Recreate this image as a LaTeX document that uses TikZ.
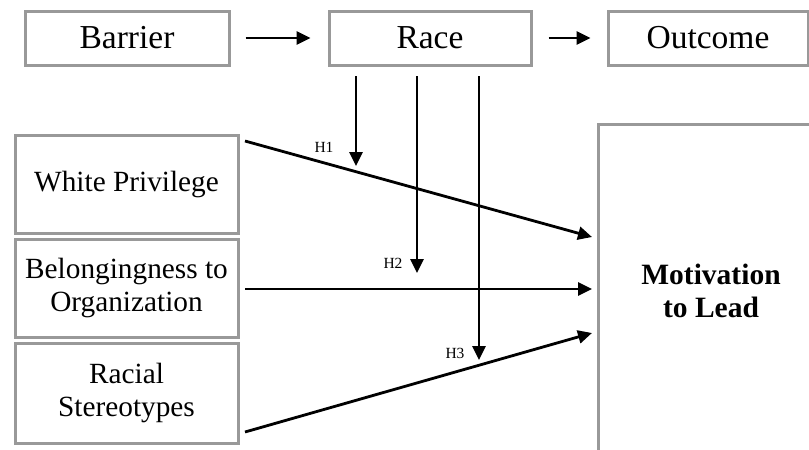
\documentclass[tikz,border=0pt]{standalone}
\usepackage{fontspec}
\setmainfont{Liberation Serif}
\usetikzlibrary{arrows.meta}
\definecolor{boxgray}{gray}{0.6}
\tikzset{
  topbox/.style={draw=boxgray, line width=3pt, minimum height=54pt, inner sep=0pt,
    font=\fontsize{33.5}{36}\selectfont},
  sidebox/.style={draw=boxgray, line width=3pt, minimum width=223pt, inner sep=0pt,
    align=center, font=\fontsize{29.3}{33}\selectfont},
  link/.style={line width=2.8pt, -{Triangle[length=14pt,width=13pt]}},
  hyp/.style={font=\fontsize{15.5}{17}\selectfont, inner sep=0pt}
}
\begin{document}
\begin{tikzpicture}[x=1pt, y=-1pt]
  \clip (0,0) rectangle (809,450);
  \fill[white] (0,0) rectangle (809,450);

  % top row
  \node[topbox, minimum width=204pt] (barrier) at (127,38) {Barrier};
  \node[topbox, minimum width=202pt] (race)    at (430,38) {Race};
  \node[topbox, minimum width=200pt] (outcome) at (708,38) {Outcome};
  \draw[link] ([xshift=15pt]barrier.east) -- ([xshift=-17pt]race.west);
  \draw[link] ([xshift=16pt]race.east) -- ([xshift=-16pt]outcome.west);

  % predictors
  \node[sidebox, minimum height=98pt]  (wp)  at (126.5,184) {White Privilege};
  \node[sidebox, minimum height=98pt]  (bel) at (126.5,288) {Belongingness to\\Organization};
  \node[sidebox, minimum height=100pt] (rs)  at (126.5,393) {Racial\\Stereotypes};

  % outcome box (runs past the right and bottom edges)
  \node[draw=boxgray, line width=3pt, minimum width=240pt, minimum height=360pt,
        inner sep=0pt] (mtl) at (718,304) {};
  \node[align=center, font=\fontsize{29.5}{33}\selectfont\bfseries] (mtltext) at (711,291)
    {Motivation\\to Lead};

  % connector end points
  \coordinate (wpS)  at (245,141);
  \coordinate (belS) at (245,289);
  \coordinate (rsS)  at (245,432);
  \coordinate (wpE)  at (592,237);
  \coordinate (belE) at (592,289);
  \coordinate (rsE)  at (592,333);
  \draw[link] (wpS) -- (wpE);
  \draw[link] (belS) -- (belE);
  \draw[link] (rsS) -- (rsE);

  % moderation arrows from Race
  \coordinate (m1S) at (356,76);
  \coordinate (m2S) at (417,76);
  \coordinate (m3S) at (479,76);
  \coordinate (m1E) at (356,166);
  \coordinate (m2E) at (417,273);
  \coordinate (m3E) at (479,360);
  \draw[link] (m1S) -- (m1E);
  \draw[link] (m2S) -- (m2E);
  \draw[link] (m3S) -- (m3E);

  \node[hyp] (h1) at (324,147) {H1};
  \node[hyp] (h2) at (393,263) {H2};
  \node[hyp] (h3) at (455,353) {H3};
\end{tikzpicture}
\end{document}
